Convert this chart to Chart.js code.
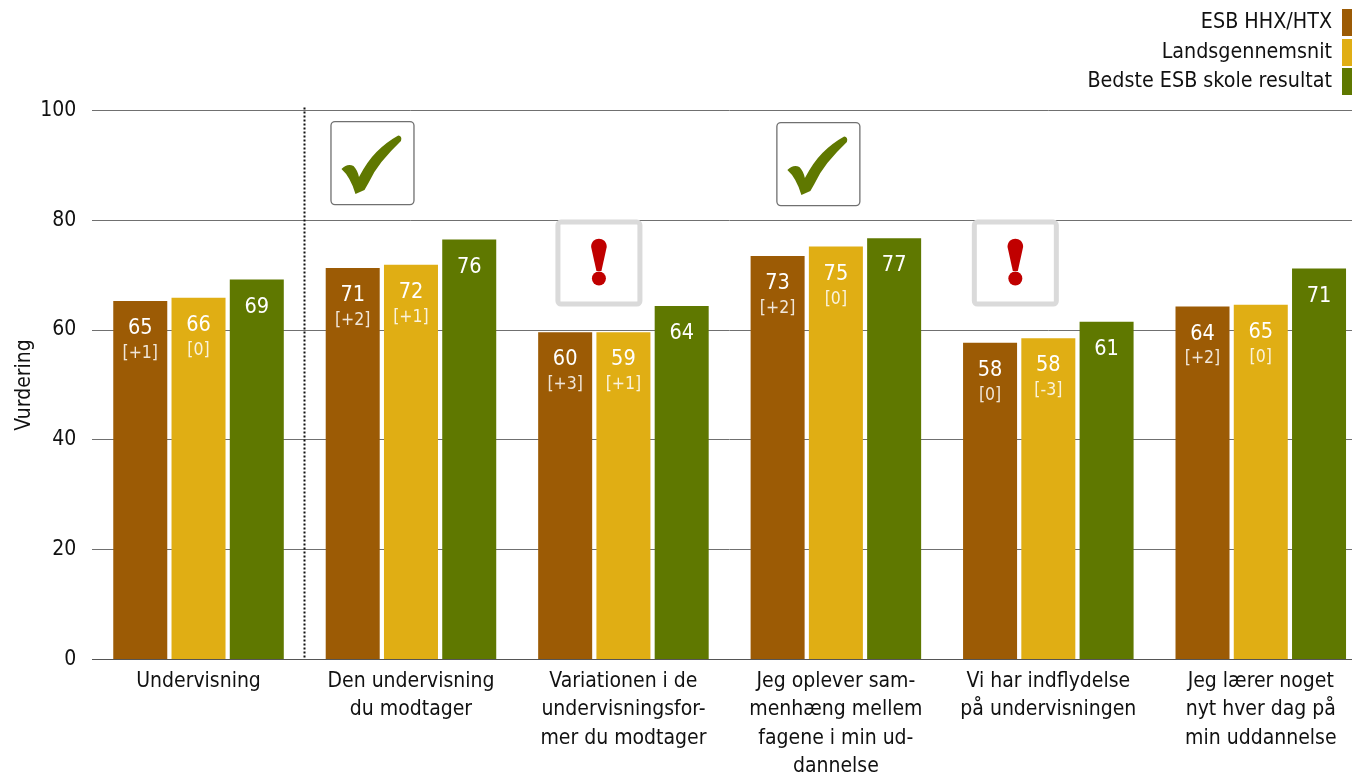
<!DOCTYPE html>
<html><head><meta charset="utf-8">
<style>html,body{margin:0;padding:0;background:#fff;overflow:hidden}#w{width:1352px;height:775px;overflow:hidden;position:relative}#w canvas{display:block}</style>
<script src="https://cdn.jsdelivr.net/npm/chart.js@4/dist/chart.umd.min.js"></script>
</head><body><div id="w"><canvas id="c" width="1367" height="775" style="width:1367px;height:775px"></canvas></div>
<script>
const categories=[["Undervisning"],["Den undervisning","du modtager"],["Variationen i de","undervisningsfor-","mer du modtager"],["Jeg oplever sam-","menhæng mellem","fagene i min ud-","dannelse"],["Vi har indflydelse","på undervisningen"],["Jeg lærer noget","nyt hver dag på","min uddannelse"]];
const seriesNames=["ESB HHX/HTX","Landsgennemsnit","Bedste ESB skole resultat"];
const colors=["#9C5B05","#E0AE14","#5F7800"];
const esb=[65.3,71.3,59.6,73.5,57.7,64.3];
const land=[65.9,71.9,59.6,75.2,58.5,64.6];
const best=[69.2,76.5,64.4,76.7,61.5,71.2];
const esbLabels=["65","71","60","73","58","64"];
const landLabels=["66","72","59","75","58","65"];
const bestLabels=["69","76","64","77","61","71"];
const esbDelta=["[+1]","[+2]","[+3]","[+2]","[0]","[+2]"];
const landDelta=["[0]","[+1]","[+1]","[0]","[-3]","[0]"];
const checkCats=[1,3];
const warnCats=[2,4];
const FF='"DejaVu Sans Condensed","DejaVu Sans",sans-serif';
const valueLabels=[esbLabels,landLabels,bestLabels];
const deltaLabels=[esbDelta,landDelta,null];
const overlay={id:'overlay',
 afterDatasetsDraw(ch){
  const c=ch.ctx;c.save();
  c.textAlign='center';c.textBaseline='middle';
  ch.data.datasets.forEach((d,i)=>{
   ch.getDatasetMeta(i).data.forEach((b,j)=>{
    c.fillStyle='#fff';c.font='21.5px '+FF;
    c.fillText(valueLabels[i][j],b.x,b.y+27.5);
    if(deltaLabels[i]){c.fillStyle='rgba(255,255,255,.85)';c.font='17.5px '+FF;c.fillText(deltaLabels[i][j],b.x,b.y+52.5);}
   });
  });
  const xs=ch.scales.x,ys=ch.scales.y;
  const sx=Math.round((xs.getPixelForValue(0)+xs.getPixelForValue(1))/2)-0.5;
  c.strokeStyle='#111';c.lineWidth=2;c.setLineDash([2,2]);
  c.beginPath();c.moveTo(sx,ys.top-3);c.lineTo(sx,ys.bottom);c.stroke();c.setLineDash([]);
  checkCats.forEach(k=>{
   const cx=xs.getPixelForValue(k)+(k===1?-38.5:-17.5), cy=ys.getPixelForValue(90.4)+(k===3?1:0);
   c.strokeStyle='#707070';c.lineWidth=1.3;c.fillStyle='#fff';
   c.beginPath();c.roundRect(cx-41.5,cy-41.5,83,83,4);c.fill();c.stroke();
   c.fillStyle='#5F7800';c.beginPath();
   const X=v=>cx+v,Y=v=>cy+v;
   c.moveTo(X(-31),Y(6));
   c.quadraticCurveTo(X(-25),Y(0),X(-19),Y(3));
   c.quadraticCurveTo(X(-15),Y(7),X(-13.5),Y(14));
   c.quadraticCurveTo(X(-5),Y(-2),X(4),Y(-11));
   c.quadraticCurveTo(X(14),Y(-21),X(25.8),Y(-27.5));
   c.quadraticCurveTo(X(30),Y(-27),X(28.5),Y(-22));
   c.quadraticCurveTo(X(18),Y(-12),X(9),Y(-1));
   c.quadraticCurveTo(X(1),Y(9),X(-4),Y(20));
   c.lineTo(X(-8),Y(27));
   c.lineTo(X(-17),Y(31));
   c.quadraticCurveTo(X(-22),Y(14),X(-31),Y(6));
   c.closePath();c.fill();
  });
  warnCats.forEach(k=>{
   const cx=xs.getPixelForValue(k)+(k===2?-24.5:-33), cy=ys.getPixelForValue(72.2);
   c.strokeStyle='#DADADA';c.lineWidth=5;c.fillStyle='#fff';
   c.beginPath();c.roundRect(cx-41,cy-41,82,82,3);c.fill();c.stroke();
   c.fillStyle='#C00000';
   c.beginPath();c.moveTo(cx-7.8,cy-16);
   c.bezierCurveTo(cx-8,cy-27,cx+8,cy-27,cx+7.8,cy-16);
   c.lineTo(cx+2.5,cy+8);c.lineTo(cx-2.5,cy+8);c.closePath();c.fill();
   c.beginPath();c.arc(cx,cy+15.5,7,0,Math.PI*2);c.fill();
  });
  const rows=[22.5,52.5,81.5];
  seriesNames.forEach((n,i)=>{
   c.fillStyle=colors[i];c.fillRect(1342,rows[i]-13.5,10,27);
   c.fillStyle='#111';c.font='21.3px '+FF;c.textAlign='right';c.fillText(n,1332,rows[i]);
  });
  c.restore();
 }};
new Chart(document.getElementById('c'),{
 type:'bar',
 data:{labels:categories,datasets:[esb,land,best].map((v,i)=>({label:seriesNames[i],data:v,backgroundColor:colors[i],borderWidth:0,categoryPercentage:0.8227,barPercentage:0.927}))},
 plugins:[overlay],
 options:{responsive:false,animation:false,devicePixelRatio:1,
  layout:{padding:{top:110.4,left:0,right:0,bottom:0}},
  plugins:{legend:{display:false},tooltip:{enabled:false},title:{display:false}},
  scales:{
   y:{min:0,max:100,afterFit(a){a.width=92.3},
    ticks:{stepSize:20,color:'#111',padding:16,font:{family:FF,size:21}},
    title:{display:true,text:'Vurdering',color:'#111',font:{family:FF,size:21},padding:{top:12,bottom:0}},
    border:{display:false},
    grid:{color:'#707070',lineWidth:1,drawTicks:false,tickLength:0}},
   x:{afterFit(a){a.height=115.51},
    ticks:{color:'#111',padding:7.5,maxRotation:0,autoSkip:false,font:{family:FF,size:21,lineHeight:1.36}},
    border:{color:'#555',width:1},
    grid:{display:false,tickLength:0}}
  }}
});
</script></body></html>
